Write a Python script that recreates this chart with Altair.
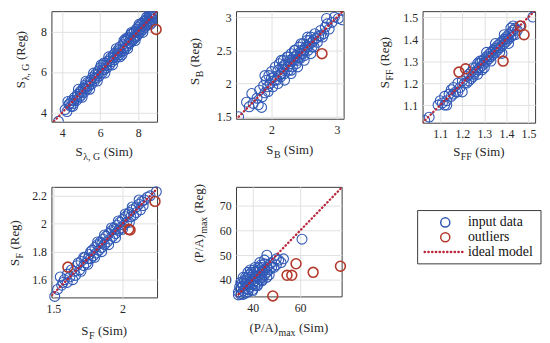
import altair as alt
import pandas as pd

FONT = "Liberation Serif"
BLUE = "#3159b6"
RED = "#b2392b"
IDEAL = "#b8283a"
TXT = "#262626"

# ---------------- data ----------------
# panel 1: S_lambda,G
p1_points = [(3.80,3.57),(4.15,4.15),(4.25,4.05),(4.35,4.40),(4.45,4.30),(4.50,4.60),(4.60,4.45),(4.65,4.75),
             (4.75,4.60),(4.80,4.90),(4.90,4.75),(4.95,5.05),(5.00,4.85),(5.10,5.20),(5.15,5.00),(5.20,5.35),
             (5.30,5.15),(5.35,5.50),(5.40,5.30),(5.50,5.60),(5.55,5.40),(5.60,5.75),(5.70,5.55),(5.75,5.90),
             (5.80,5.70),(5.90,6.05),(5.95,5.80),(6.00,6.20),(6.10,5.95),(6.15,6.35),(6.20,6.10),(6.30,6.45),
             (6.35,6.20),(6.40,6.55),(6.50,6.35),(6.55,6.70),(6.60,6.50),(6.70,6.85),(6.75,6.60),(6.80,6.95),
             (6.90,6.75),(6.95,7.10),(7.00,6.85),(7.05,7.25),(7.10,7.00),(7.20,7.35),(7.25,7.05),(7.30,7.50),
             (7.35,7.20),(7.40,7.60),(7.45,7.30),(7.50,7.70),(7.55,7.40),(7.60,7.85),(7.65,7.50),(7.70,7.90),
             (7.75,7.60),(7.80,8.00),(7.85,7.70),(7.90,8.10),(7.95,7.80),(8.00,8.20),(8.05,7.90),(8.10,8.30),
             (8.15,8.00),(8.20,8.40),(8.25,8.10),(8.30,8.50),(8.35,8.20),(8.40,8.55),(8.45,8.30),(8.50,8.65),
             (8.55,8.40),(8.60,8.75),(8.65,8.50),(8.70,8.80),(8.75,8.60),(8.80,8.88),(8.85,8.70),(8.88,8.85),
             (8.30,8.30),(8.50,8.50),(8.70,8.70),(7.90,7.95),(7.60,7.65),(7.20,7.15),(6.90,6.90),(6.50,6.55),
             (6.10,6.10),(5.70,5.70),(5.30,5.30),(5.00,5.00),(4.60,4.60),(8.80,8.60),(8.60,8.85),
             (4.30,4.55),(4.55,4.30),(4.85,5.15),(5.05,4.75),(5.25,5.55),(5.45,5.15),(5.65,5.95),(5.85,5.55),
             (6.05,6.35),(6.25,5.95),(6.45,6.75),(6.65,6.35),(6.85,7.15),(7.05,6.75),(7.25,7.55),(7.45,7.15),
             (7.65,7.95),(7.85,7.55),(8.05,8.35),(8.25,7.95),(8.45,8.70),(8.65,8.35),(8.85,8.90),(8.75,8.45),
             (7.50,7.45),(7.80,7.75),(8.10,8.10),(8.40,8.40),(8.00,8.00),(7.00,7.05),(6.70,6.70),(6.30,6.30),
             (5.90,5.90),(5.50,5.50),(5.20,5.20),(4.80,4.80),(4.40,4.45),(7.35,7.65),(7.15,6.85),(6.20,6.45)]
p1_outliers = [(8.95, 8.10)]
p1_xdom = [3.43, 9.0]
p1_ydom = [3.55, 9.0]
p1_ideal = [3.43, 9.0]
p1_ticks = [4, 6, 8]

# panel 2: S_B
p2_points = [(1.50,1.50),(1.62,1.72),(1.66,1.65),(1.70,1.85),(1.72,1.70),(1.78,1.78),(1.80,1.68),(1.82,1.90),
             (1.86,1.80),(1.88,1.97),(1.90,1.86),(1.92,2.05),(1.94,1.95),(1.96,2.12),(1.98,2.00),(2.00,2.18),
             (2.02,1.95),(2.04,2.10),(2.06,2.25),(2.08,2.05),(2.10,2.20),(2.12,2.30),(2.14,2.10),(2.16,2.25),
             (2.18,2.35),(2.20,2.15),(2.22,2.30),(2.24,2.40),(2.26,2.20),(2.28,2.35),(2.30,2.45),(2.32,2.25),
             (2.34,2.40),(2.36,2.50),(2.38,2.30),(2.40,2.45),(2.42,2.55),(2.44,2.38),(2.46,2.50),(2.48,2.60),
             (2.50,2.42),(2.52,2.55),(2.54,2.65),(2.56,2.50),(2.58,2.60),(2.60,2.70),(2.62,2.55),(2.64,2.65),
             (2.66,2.75),(2.70,2.62),(2.72,2.72),(2.75,2.80),(2.78,2.70),(2.82,2.85),(2.84,2.98),(2.88,2.82),
             (2.92,2.92),(2.96,3.00),(3.02,2.98),(3.08,2.96),(2.25,2.25),(2.35,2.35),(2.45,2.45),(2.15,2.15),
             (2.05,2.05),(2.55,2.55),(2.30,2.20),(2.40,2.35),(2.20,2.28),(2.50,2.50),(1.90,2.12),(1.85,1.64),
             (2.10,2.00),(2.15,2.35),(2.20,2.05),(2.25,2.40),(2.30,2.15),(2.35,2.50),(2.40,2.25),(2.45,2.60),
             (2.50,2.35),(2.55,2.70),(2.60,2.45),(2.65,2.55),(2.18,2.22),(2.28,2.30),(2.38,2.42),(2.48,2.45),
             (2.58,2.65),(2.00,2.08),(1.95,1.88),(2.12,2.12),(2.32,2.35),(2.42,2.40),(2.62,2.62),(2.68,2.68),
             (2.75,2.72),(2.80,2.75),(2.85,2.90)]
p2_outliers = [(2.77, 2.45)]
p2_xdom = [1.46, 3.10]
p2_ydom = [1.47, 3.09]
p2_ideal = [1.46, 3.10]
p2_xticks = [2, 3]
p2_yticks = [1.5, 2, 2.5, 3]

# panel 3: S_FF
p3_points = [(1.03,1.03),(1.05,1.045),(1.09,1.10),(1.10,1.12),(1.11,1.11),(1.12,1.14),(1.12,1.10),(1.13,1.12),
             (1.14,1.15),(1.15,1.14),(1.16,1.18),(1.17,1.16),(1.18,1.20),(1.19,1.18),(1.20,1.16),(1.20,1.21),
             (1.21,1.20),(1.22,1.23),(1.23,1.21),(1.24,1.25),(1.24,1.22),(1.25,1.24),(1.26,1.27),(1.26,1.25),
             (1.27,1.26),(1.28,1.29),(1.28,1.27),(1.29,1.30),(1.29,1.28),(1.30,1.31),(1.30,1.29),(1.31,1.32),
             (1.31,1.30),(1.32,1.33),(1.32,1.31),(1.33,1.34),(1.33,1.32),(1.34,1.35),(1.34,1.33),(1.35,1.36),
             (1.35,1.34),(1.36,1.37),(1.36,1.35),(1.37,1.38),(1.37,1.36),(1.38,1.39),(1.38,1.37),(1.39,1.40),
             (1.39,1.38),(1.40,1.41),(1.40,1.39),(1.41,1.42),(1.41,1.40),(1.42,1.43),(1.42,1.41),(1.43,1.44),
             (1.43,1.42),(1.44,1.45),(1.45,1.44),(1.46,1.46),(1.52,1.50),(1.27,1.24),(1.30,1.27),(1.25,1.27),
             (1.38,1.335),(1.25,1.23),(1.27,1.29),(1.29,1.26),(1.31,1.34),(1.33,1.30),(1.35,1.38),(1.37,1.34),
             (1.39,1.42),(1.41,1.38),(1.43,1.46),(1.44,1.42),(1.28,1.30),(1.32,1.32),(1.36,1.36),(1.40,1.40),
             (1.22,1.20),(1.23,1.24),(1.18,1.16),(1.16,1.15),(1.13,1.10),(1.15,1.17),(1.42,1.45)]
p3_outliers = [(1.185,1.25),(1.215,1.265),(1.385,1.30),(1.48,1.42),(1.465,1.46)]
p3_xdom = [1.02, 1.53]
p3_ydom = [1.02, 1.527]
p3_ideal = [1.02, 1.53]
p3_ticks = [1.1, 1.2, 1.3, 1.4, 1.5]

# panel 4: S_F
p4_points = [(1.51,1.48),(1.53,1.53),(1.56,1.56),(1.58,1.60),(1.60,1.58),(1.62,1.62),(1.64,1.60),(1.65,1.66),
             (1.67,1.70),(1.69,1.67),(1.70,1.73),(1.72,1.70),(1.73,1.76),(1.74,1.72),(1.76,1.78),(1.77,1.75),
             (1.78,1.81),(1.79,1.77),(1.80,1.83),(1.81,1.79),(1.82,1.85),(1.83,1.81),(1.84,1.87),(1.85,1.83),
             (1.86,1.89),(1.87,1.85),(1.88,1.91),(1.89,1.87),(1.90,1.93),(1.91,1.89),(1.92,1.95),(1.93,1.91),
             (1.94,1.97),(1.95,1.93),(1.96,1.99),(1.97,1.95),(1.98,2.01),(1.99,1.97),(2.00,2.03),(2.01,1.99),
             (2.02,2.05),(2.03,2.01),(2.04,2.07),(2.06,2.05),(2.07,2.10),(2.08,2.06),(2.10,2.12),(2.12,2.14),
             (2.14,2.16),(2.16,2.17),(2.20,2.20),(2.245,2.23),(1.55,1.62),(1.60,1.64),(1.75,1.75),(1.85,1.86),
             (1.95,1.96),(2.05,2.08),(1.70,1.66),(1.72,1.76),(1.75,1.71),(1.77,1.80),(1.80,1.76),(1.82,1.87),
             (1.85,1.80),(1.87,1.92),(1.90,1.85),(1.92,1.97),(1.95,1.90),(1.97,2.02),(2.00,1.96),(2.02,2.07),
             (2.05,2.01),(2.07,2.12),(2.10,2.08),(2.12,2.17),(2.15,2.13),(2.18,2.19),(2.13,2.10),(1.68,1.72),
             (1.66,1.63),(1.63,1.67),(1.57,1.58)]
p4_outliers = [(1.605,1.69),(2.045,1.96),(2.055,1.955),(2.235,2.16)]
p4_xdom = [1.486, 2.25]
p4_ydom = [1.473, 2.264]
p4_ideal = [1.47, 2.27]
p4_xticks = [1.5, 2]
p4_yticks = [1.6, 1.8, 2, 2.2]

# panel 5: (P/A)max
p5_points = [(34,35),(34.5,37),(35,34),(35,36.5),(35.5,38.5),(36,35.5),(36,37.5),(36.5,39.5),(37,34.5),
             (37,36.5),(37,38.5),(37.5,40.5),(38,36),(38,38),(38,40),(38.5,42),(39,37),(39,39),(39,41),
             (39.5,43),(40,38),(40,40),(40,42),(40.5,44),(41,37.5),(41,39.5),(41,41.5),(41.5,43.5),(42,39),
             (42,41),(42,43),(42.5,45),(43,40),(43,42),(43,44),(43.5,46),(44,41),(44,43),(44,45),(45,42),
             (45,44),(45,46.5),(46,43),(46,45),(46,50),(47,44),(47,46),(48,45),(48,47),(50,46),(51,48),
             (52,47),(53,48.5),(60.8,56.5),(36,41),(38,43),(40,36),(42,37.5),(44,39.5),(46,41),
             (35,39),(37,41),(39,44),(41,45),(43,47),(45,48),(34,33.8),(36,34),(38,35),(40,35.5),
             (42,38),(44,40),(47,42),(49,45),(50,48.5)]
p5_outliers = [(48.5,33.4),(54.5,41.8),(56.5,41.8),(58.3,46.5),(65.5,43.0),(77.0,45.5)]
p5_xdom = [33.0, 77.5]
p5_ydom = [33.2, 77.8]
p5_ideal = [33.0, 77.8]
p5_xticks = [40, 60]
p5_yticks = [40, 50, 60, 70]

legend_labels = ["input data", "outliers", "ideal model"]
legend_kinds = ["marker", "marker", "line"]
legend_colors = [BLUE, RED, IDEAL]

# ---------------- helpers ----------------
CW = {'S': .556, 'B': .667, 'F': .556, 'P': .556, 'A': .722, 'G': .722, 'R': .667, '(': .333,
      ')': .333, '/': .278, ' ': .25, 'i': .278, 'm': .778, 'e': .444, 'g': .5, 'a': .444,
      'x': .5, ',': .25, 'λ': .5}


def text_w(s, fs):
    return sum(CW.get(c, 0.5) for c in s) * fs


ONE = pd.DataFrame({"k": [0]})


def label_layers(pieces, ax, ay, angle):
    total = sum(text_w(t, fs) + g for t, fs, dy, g in pieces)
    pos = -total / 2
    out = []
    for t, fs, dy, g in pieces:
        pos += g
        out.append(
            alt.Chart(ONE).mark_text(text=t, font=FONT, fontSize=fs, color=TXT, align="left",
                                     baseline="alphabetic", angle=angle, dx=pos, dy=dy)
            .encode(x=alt.value(ax), y=alt.value(ay))
        )
        pos += text_w(t, fs)
    return out


def lab(main, sub, tail):
    return [(main, 13, 0, 0), (sub, 10, 4, 0.5), (tail, 13, 0, 3.5)]


def panel(points, outliers, ideal, xdom, ydom, xticks, yticks, w, h,
          main, sub, xlab_dy, ylab_dx, ylab_cy, clip_pts):
    df = pd.DataFrame(points, columns=["sim", "reg"])
    do = pd.DataFrame(outliers, columns=["sim", "reg"])
    dl = pd.DataFrame({"sim": ideal, "reg": ideal})
    xe = alt.X("sim:Q", scale=alt.Scale(domain=xdom, nice=False, zero=False),
               axis=alt.Axis(values=xticks, tickCount=12, title=None, format="~r",
                             labelOverlap=False))
    ye = alt.Y("reg:Q", scale=alt.Scale(domain=ydom, nice=False, zero=False),
               axis=alt.Axis(values=yticks, tickCount=12, title=None, format="~r",
                             labelOverlap=False))
    pts = alt.Chart(df).mark_point(shape="circle", filled=False, size=100, color=BLUE,
                                   strokeWidth=1.1, opacity=1, clip=clip_pts).encode(x=xe, y=ye)
    outs = alt.Chart(do).mark_point(shape="circle", filled=False, size=100, color=RED,
                                    strokeWidth=1.6, opacity=1).encode(x="sim:Q", y="reg:Q")
    line = alt.Chart(dl).mark_line(color=IDEAL, strokeDash=[0.5, 3.3], strokeCap="round",
                                   strokeWidth=2.3, clip=True).encode(x="sim:Q", y="reg:Q")
    layers = [pts, outs, line]
    layers += label_layers(lab(main, sub, "(Sim)"), w / 2, h + xlab_dy, 0)
    layers += label_layers(lab(main, sub, "(Reg)"), ylab_dx, ylab_cy, 270)
    return alt.layer(*layers).properties(width=w, height=h)


c1 = panel(p1_points, p1_outliers, p1_ideal, p1_xdom, p1_ydom, p1_ticks, p1_ticks, 107, 112,
           "S", "λ, G", 35, -27, 49, True)
c2 = panel(p2_points, p2_outliers, p2_ideal, p2_xdom, p2_ydom, p2_xticks, p2_yticks, 109, 109,
           "S", "B", 36, -37, 51, True)
c3 = panel(p3_points, p3_outliers, p3_ideal, p3_xdom, p3_ydom, p3_ticks, p3_ticks, 114, 113,
           "S", "FF", 34, -34, 52, True)
c4 = panel(p4_points, p4_outliers, p4_ideal, p4_xdom, p4_ydom, p4_xticks, p4_yticks, 107, 112,
           "S", "F", 38, -33, 57, False)
c5 = panel(p5_points, p5_outliers, p5_ideal, p5_xdom, p5_ydom, p5_xticks, p5_yticks, 107, 111,
           "(P/A)", "max", 36, -33, 37, False)

# ---------------- legend cell ----------------
leg = pd.DataFrame({"label": legend_labels, "kind": legend_kinds, "color": legend_colors})
ly = alt.Y("label:N", sort=legend_labels, axis=None,
           scale=alt.Scale(type="point", range=[36, 66], padding=0))
lbox = alt.Chart(ONE).mark_rect(fill="white", stroke="#3a3a3a", strokeWidth=1).encode(
    x=alt.value(-5), x2=alt.value(120), y=alt.value(24), y2=alt.value(78))
lsym = alt.Chart(leg).transform_filter("datum.kind == 'marker'").mark_point(
    shape="circle", filled=False, size=85, strokeWidth=1.5, opacity=1).encode(
    x=alt.value(23), y=ly, color=alt.Color("color:N", scale=None))
lline = alt.Chart(leg).transform_filter("datum.kind == 'line'").mark_rule(
    strokeDash=[0.5, 3.3], strokeCap="round", strokeWidth=2.3).encode(
    x=alt.value(2), x2=alt.value(42), y=ly, color=alt.Color("color:N", scale=None))
ltxt = alt.Chart(leg).mark_text(align="left", baseline="middle", font=FONT, fontSize=14,
                                color="#111111").encode(x=alt.value(46), y=ly, text="label:N")
c6 = alt.layer(lbox, lsym, lline, ltxt).properties(
    width=114, height=112, view=alt.ViewBackground(stroke="transparent"))

chart = alt.concat(c1, c2, c3, c4, c5, c6, columns=3, bounds="flush",
                   spacing=alt.RowColnumber(row=65, column=80)).properties(
    padding={"left": 0, "top": 0, "right": 0, "bottom": 0}
).configure_view(stroke="#3a3a3a", strokeWidth=1).configure_axis(
    labelFont=FONT, labelFontSize=12, labelColor=TXT, ticks=False, domain=False,
    gridColor="#e1e1e1", gridWidth=1
).configure_axisX(labelPadding=6).configure_axisY(labelPadding=5)

chart.save("out.html", embed_options={"renderer": "svg", "actions": False})
